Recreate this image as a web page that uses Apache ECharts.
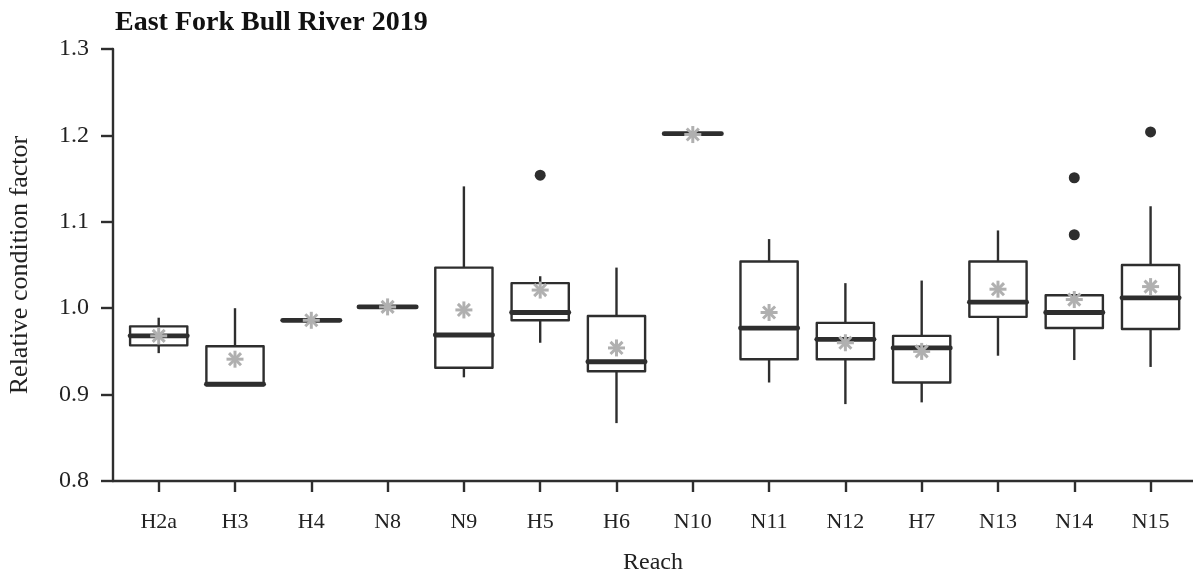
<!DOCTYPE html>
<html>
<head>
<meta charset="utf-8">
<title>East Fork Bull River 2019</title>
<script src="https://cdn.jsdelivr.net/npm/echarts@6/dist/echarts.min.js"></script>
<style>
  html, body { margin: 0; padding: 0; background: #fff; }
  #chart { width: 1193px; height: 573px; }
</style>
</head>
<body>
<div id="chart"></div>
<script>
// Relative condition factor by reach, East Fork Bull River, 2019
const reaches = ['H2a', 'H3', 'H4', 'N8', 'N9', 'H5', 'H6', 'N10', 'N11', 'N12', 'H7', 'N13', 'N14', 'N15'];
const whiskerLow  = [0.948, 0.911, 0.986, 1.0015, 0.920, 0.960, 0.867, 1.202, 0.914, 0.889, 0.891, 0.945, 0.940, 0.932];
const q1          = [0.957, 0.911, 0.986, 1.0015, 0.931, 0.986, 0.927, 1.202, 0.941, 0.941, 0.914, 0.990, 0.977, 0.976];
const medians     = [0.968, 0.912, 0.986, 1.0015, 0.969, 0.995, 0.938, 1.202, 0.977, 0.964, 0.954, 1.007, 0.995, 1.012];
const q3          = [0.979, 0.956, 0.986, 1.0015, 1.047, 1.029, 0.991, 1.202, 1.054, 0.983, 0.968, 1.054, 1.015, 1.050];
const whiskerHigh = [0.989, 1.000, 0.986, 1.0015, 1.141, 1.037, 1.047, 1.202, 1.080, 1.029, 1.032, 1.090, 1.015, 1.118];
const means       = [0.968, 0.941, 0.986, 1.0015, 0.998, 1.021, 0.954, 1.201, 0.995, 0.960, 0.950, 1.022, 1.010, 1.025];
// outliers as [reach index, value]
const outliers = [[5, 1.154], [12, 1.151], [12, 1.085], [13, 1.204]];
const yTicks = [0.8, 0.9, 1.0, 1.1, 1.2, 1.3];

const ink = '#2e2e2e';
const serif = 'Liberation Serif';
const reachIdx = reaches.map((_, i) => i);

const boxData = reaches.map((_, i) => [i, whiskerLow[i], q1[i], medians[i], q3[i], whiskerHigh[i]]);
const meanData = reaches.map((_, i) => [i, means[i]]);

function renderBox(params, api) {
  const i = api.value(0);
  const half = api.size([0.75, 0])[0] / 2;
  const lo = api.coord([i, api.value(1)]);
  const b1 = api.coord([i, api.value(2)]);
  const md = api.coord([i, api.value(3)]);
  const b3 = api.coord([i, api.value(4)]);
  const hi = api.coord([i, api.value(5)]);
  const x = lo[0];
  const line = { stroke: ink, lineWidth: 2.4, lineCap: 'butt' };
  return {
    type: 'group',
    children: [
      { type: 'line', shape: { x1: x, y1: hi[1], x2: x, y2: b3[1] }, style: line },
      { type: 'line', shape: { x1: x, y1: b1[1], x2: x, y2: lo[1] }, style: line },
      { type: 'rect', shape: { x: x - half, y: b3[1], width: half * 2, height: b1[1] - b3[1] },
        style: { fill: '#fff', stroke: ink, lineWidth: 2.4, lineJoin: 'round' } },
      { type: 'line', shape: { x1: x - half, y1: md[1], x2: x + half, y2: md[1] },
        style: { stroke: ink, lineWidth: 4.8, lineCap: 'round' } }
    ]
  };
}

function renderMean(params, api) {
  const c = api.coord([api.value(0), api.value(1)]);
  const r = 8.5;
  const d = r * Math.SQRT1_2;
  const st = { stroke: '#b0b0b0', lineWidth: 3, lineCap: 'butt' };
  return {
    type: 'group',
    children: [
      { type: 'line', shape: { x1: c[0] - r, y1: c[1], x2: c[0] + r, y2: c[1] }, style: st },
      { type: 'line', shape: { x1: c[0], y1: c[1] - r, x2: c[0], y2: c[1] + r }, style: st },
      { type: 'line', shape: { x1: c[0] - d, y1: c[1] - d, x2: c[0] + d, y2: c[1] + d }, style: st },
      { type: 'line', shape: { x1: c[0] - d, y1: c[1] + d, x2: c[0] + d, y2: c[1] - d }, style: st }
    ]
  };
}

const chart = echarts.init(document.getElementById('chart'), null, { renderer: 'canvas' });
chart.setOption({
  animation: false,
  backgroundColor: '#fff',
  title: {
    text: 'East Fork Bull River 2019',
    left: 110, top: 4,
    textStyle: { fontFamily: serif, fontWeight: 'bold', fontSize: 28, color: '#111' }
  },
  grid: { left: 113, right: 0, top: 49, bottom: 92, outerBoundsMode: 'none' },
  xAxis: {
    type: 'value',
    min: -0.599, max: 13.556,
    name: 'Reach', nameLocation: 'middle', nameGap: 70,
    nameTextStyle: { fontFamily: serif, fontSize: 24, color: '#222' },
    axisLine: { show: true, onZero: false, lineStyle: { color: ink, width: 2.4 } },
    axisTick: { show: true, length: 11, lineStyle: { color: ink, width: 2.4 }, customValues: reachIdx },
    axisLabel: {
      customValues: reachIdx, margin: 30,
      fontFamily: serif, fontSize: 22, color: '#222',
      formatter: v => reaches[Math.round(v)]
    },
    splitLine: { show: false }
  },
  yAxis: {
    type: 'value',
    min: 0.8, max: 1.3, interval: 0.1,
    name: 'Relative condition factor', nameLocation: 'middle', nameGap: 80,
    nameTextStyle: { fontFamily: serif, fontSize: 26, color: '#222' },
    axisLine: { show: true, onZero: false, lineStyle: { color: ink, width: 2.4 } },
    axisTick: { show: true, length: 12, lineStyle: { color: ink, width: 2.4 } },
    axisLabel: {
      margin: 24, fontFamily: serif, fontSize: 24, color: '#222',
      formatter: v => yTicks.find(t => Math.abs(t - v) < 1e-6).toFixed(1)
    },
    splitLine: { show: false }
  },
  series: [
    { type: 'custom', name: 'box', renderItem: renderBox, data: boxData, encode: { x: 0, y: [1, 2, 3, 4, 5] }, z: 2 },
    { type: 'scatter', name: 'outliers', data: outliers, symbol: 'circle', symbolSize: 11,
      itemStyle: { color: ink, opacity: 1 }, z: 3 },
    { type: 'custom', name: 'mean', renderItem: renderMean, data: meanData, encode: { x: 0, y: 1 }, z: 4 }
  ]
});
</script>
</body>
</html>
